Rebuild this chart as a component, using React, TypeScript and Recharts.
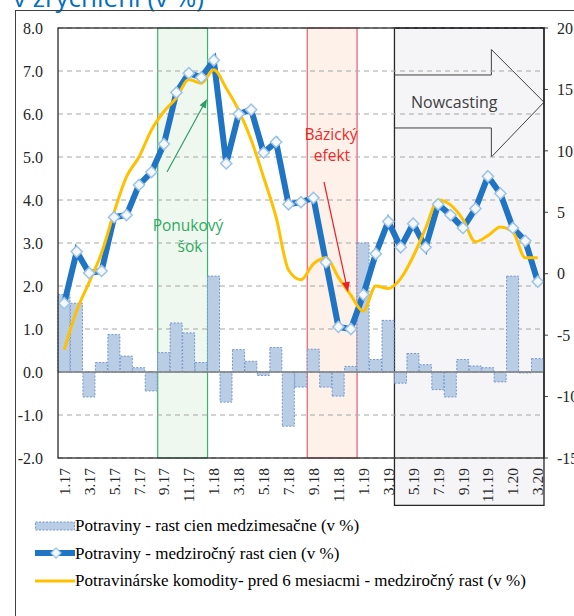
import React from 'react';
import {
  ComposedChart, Bar, Line, XAxis, YAxis, CartesianGrid,
  ReferenceArea, ReferenceLine, Legend,
} from 'recharts';

const months = [
  '1.17','2.17','3.17','4.17','5.17','6.17','7.17','8.17','9.17','10.17','11.17','12.17',
  '1.18','2.18','3.18','4.18','5.18','6.18','7.18','8.18','9.18','10.18','11.18','12.18',
  '1.19','2.19','3.19','4.19','5.19','6.19','7.19','8.19','9.19','10.19','11.19','12.19',
  '1.20','2.20','3.20',
];

// Potraviny - rast cien medzimesačne (v %)
const foodMoM = [
  1.8, 1.6, -0.58, 0.22, 0.87, 0.37, 0.1, -0.44, 0.45, 1.14, 0.91, 0.22,
  2.23, -0.7, 0.52, 0.25, -0.08, 0.57, -1.26, -0.35, 0.53, -0.35, -0.56, 0.13,
  3.0, 0.29, 1.2, -0.26, 0.43, 0.17, -0.41, -0.58, 0.29, 0.14, 0.1, -0.23,
  2.23, -0.02, 0.31,
];

// Potraviny - medziročný rast cien (v %)
const foodYoY = [
  1.6, 2.8, 2.3, 2.35, 3.6, 3.65, 4.35, 4.65, 5.3, 6.5, 6.95, 6.85,
  7.25, 4.85, 6.0, 6.1, 5.1, 5.35, 3.9, 3.95, 4.05, 2.55, 1.05, 1.0,
  1.8, 2.75, 3.5, 2.9, 3.45, 2.9, 3.9, 3.65, 3.35, 3.8, 4.55, 4.15,
  3.35, 3.05, 2.1,
];

// Potravinárske komodity - pred 6 mesiacmi - medziročný rast (v %)
const commodities = [
  -6.2, -3.0, -0.7, 1.7, 5.0, 7.9, 9.5, 11.7, 13.2, 14.3, 15.8, 15.5,
  16.6, 15.1, 13.3, 10.9, 7.85, 4.6, 0.3, -0.5, 0.8, 1.3, -0.3, -1.75,
  -3.05, -1.0, -1.2, -0.4, 1.4, 3.7, 6.0, 5.6, 4.4, 2.6, 3.1, 3.8,
  3.4, 1.3, 1.3,
];

const leftTicks = [-2, -1, 0, 1, 2, 3, 4, 5, 6, 7, 8];
const rightTicks = [-15, -10, -5, 0, 5, 10, 15, 20];

const legendLabels = [
  'Potraviny - rast cien medzimesačne (v %)',
  'Potraviny - medziročný rast cien (v %)',
  'Potravinárske komodity- pred 6 mesiacmi - medziročný rast (v %)',
];

const data = months.map((m, i) => ({
  m,
  mom: foodMoM[i],
  yoy: foodYoY[i],
  kom: commodities[i],
}));

const SERIF = "'Liberation Serif', 'Times New Roman', serif";
const SANS = "'Open Sans', 'Noto Sans', sans-serif";

const XTick = (props: any) => {
  const { x, y, payload } = props;
  return (
    <text
      x={x}
      y={y}
      transform={`rotate(-90, ${x}, ${y})`}
      textAnchor="end"
      dominantBaseline="central"
      fontFamily={SERIF}
      fontSize={15.5}
      fill="#262626"
    >
      {payload.value}
    </text>
  );
};

const Diamond = (props: any) => {
  const { cx, cy, index } = props;
  if (cx == null || cy == null) return null;
  const r = 5.6;
  return (
    <polygon
      key={`d-${index}`}
      points={`${cx},${cy - r} ${cx + r},${cy} ${cx},${cy + r} ${cx - r},${cy}`}
      fill="#f5f9fe"
      stroke="#9dc3e6"
      strokeWidth={1.5}
    />
  );
};

const NowcastArrow = (p: any) => {
  const { x, y, width: w, height: h } = p;
  if (x == null) return null;
  const hx = x + w * 0.648;
  const s1 = y + h * 0.237;
  const s2 = y + h * 0.73;
  const tipY = y + h * 0.49;
  return (
    <g>
      <polyline
        points={`${x},${s1} ${hx},${s1} ${hx},${y} ${x + w},${tipY} ${hx},${y + h} ${hx},${s2} ${x},${s2}`}
        fill="none"
        stroke="#404040"
        strokeWidth={1}
      />
      <text
        x={x + w * 0.4}
        y={tipY}
        textAnchor="middle"
        dominantBaseline="central"
        fontFamily={SANS}
        fontSize={16}
        fill="#404040"
      >
        Nowcasting
      </text>
    </g>
  );
};

const renderLegend = () => (
  <div style={{ fontFamily: SERIF, fontSize: 17, color: '#000', lineHeight: '27.5px' }}>
    {legendLabels.map((label, i) => (
      <div key={label} style={{ display: 'flex', alignItems: 'center', height: 27.5, whiteSpace: 'nowrap' }}>
        <svg width={40} height={14} style={{ display: 'block' }}>
          {i === 0 && (
            <rect x={0.5} y={3} width={39} height={8} fill="#b9cde5" stroke="#7496cc" strokeDasharray="2 1.5" />
          )}
          {i === 1 && (
            <g>
              <line x1={0} y1={7} x2={40} y2={7} stroke="#1f74c4" strokeWidth={6} />
              <polygon points="21,2 26,7 21,12 16,7" fill="#f5f9fe" stroke="#9dc3e6" strokeWidth={1.3} />
            </g>
          )}
          {i === 2 && <line x1={0} y1={7} x2={40} y2={7} stroke="#ffc000" strokeWidth={3} />}
        </svg>
        <span>{label}</span>
      </div>
    ))}
  </div>
);

const arrowHead = (x1: number, y1: number, x2: number, y2: number, len: number, wid: number) => {
  const dx = x2 - x1;
  const dy = y2 - y1;
  const d = Math.sqrt(dx * dx + dy * dy);
  const ux = dx / d;
  const uy = dy / d;
  const bx = x2 - ux * len;
  const by = y2 - uy * len;
  return `${x2},${y2} ${bx - uy * wid},${by + ux * wid} ${bx + uy * wid},${by - ux * wid}`;
};

export default function App() {
  return (
    <div style={{ position: 'absolute', left: 0, top: 0, width: 574, height: 616, overflow: 'hidden', background: '#fff' }}>
      <ComposedChart
        width={574}
        height={616}
        data={data}
        margin={{ top: 28, right: 0, bottom: 98, left: 18 }}
        barCategoryGap={0}
        barGap={0}
      >
        <ReferenceArea
          x1="9.17" x2="12.17" y1={-2} y2={8} yAxisId="left"
          fill="#eef8ef" fillOpacity={1} stroke="#3cb371" strokeWidth={1.2}
          zIndex={-300}
        />
        <ReferenceArea
          x1="9.18" x2="12.18" y1={-2} y2={8} yAxisId="left"
          fill="#fdf1ea" fillOpacity={1} stroke="#e0606c" strokeWidth={1.2}
          zIndex={-300}
        />
        <ReferenceArea
          x1="4.19" x2="3.20" y1={-3.1} y2={8} yAxisId="left"
          fill="#f5f5f7" fillOpacity={1} stroke="#262626" strokeWidth={1.3}
          ifOverflow="visible"
          zIndex={-300}
        />
        <ReferenceArea
          x1="4.19" x2="3.20" y1={5.0} y2={7.5} yAxisId="left"
          shape={NowcastArrow}
          ifOverflow="visible"
          zIndex={-250}
        />
        <CartesianGrid
          yAxisId="left"
          vertical={false}
          stroke="#a6a6a6"
          strokeDasharray="5 4"
        />
        <XAxis
          dataKey="m"
          interval={1}
          axisLine={false}
          tickLine={false}
          tickSize={0}
          tickMargin={10}
          height={60}
          tick={<XTick />}
        />
        <YAxis
          yAxisId="left"
          orientation="left"
          domain={[-2, 8]}
          ticks={leftTicks}
          width={40}
          axisLine={false}
          tickLine={false}
          tickSize={0}
          tickMargin={15}
          tickFormatter={(v: number) => v.toFixed(1)}
          tick={{ fontFamily: SERIF, fontSize: 16, fill: '#262626' }}
        />
        <YAxis
          yAxisId="right"
          orientation="right"
          domain={[-15, 20]}
          ticks={rightTicks}
          width={30}
          axisLine={false}
          tickLine={{ stroke: '#404040' }}
          tickSize={4}
          tickMargin={9}
          tick={{ fontFamily: SERIF, fontSize: 16, fill: '#262626', textAnchor: 'start' }}
        />
        <Bar
          yAxisId="left"
          dataKey="mom"
          fill="#b9cde5"
          stroke="#7496cc"
          strokeDasharray="2 1.5"
          strokeWidth={1}
          isAnimationActive={false}
        />
        <ReferenceLine yAxisId="left" y={0} stroke="#7f7f7f" strokeWidth={1.3} />
        <Line
          yAxisId="left"
          type="linear"
          dataKey="yoy"
          stroke="#1f74c4"
          strokeWidth={6}
          dot={<Diamond />}
          activeDot={false}
          isAnimationActive={false}
        />
        <Line
          yAxisId="right"
          type="monotone"
          dataKey="kom"
          stroke="#ffc000"
          strokeWidth={3}
          dot={false}
          activeDot={false}
          isAnimationActive={false}
        />
        <Legend
          layout="horizontal"
          verticalAlign="middle"
          align="center"
          wrapperStyle={{ top: 512, left: 35, width: 539, height: 85 }}
          content={renderLegend}
        />
      </ComposedChart>
      <svg
        width={574}
        height={616}
        style={{ position: 'absolute', left: 0, top: 0, pointerEvents: 'none' }}
      >
        <text x={13} y={7} fontFamily={SANS} fontSize={26} fill="#0070c0">v zrýchlení (v %)</text>
        <rect x={15.5} y={10.5} width={700} height={700} fill="none" stroke="#404040" strokeWidth={1} />
        <rect x={58} y={28} width={486} height={430} fill="none" stroke="#1a1a1a" strokeWidth={1.2} />
        <text x={188} y={231} textAnchor="middle" fontFamily={SANS} fontSize={15.5} fill="#2eaa62">Ponukový</text>
        <text x={190} y={252} textAnchor="middle" fontFamily={SANS} fontSize={15.5} fill="#2eaa62">šok</text>
        <line x1={167} y1={172} x2={203} y2={106} stroke="#2e9e6a" strokeWidth={1.2} />
        <polygon points={arrowHead(167, 172, 207, 99, 9, 3.5)} fill="#2e9e6a" />
        <text x={331} y={140} textAnchor="middle" fontFamily={SANS} fontSize={15.5} fill="#ee2a2a">Bázický</text>
        <text x={332} y={161} textAnchor="middle" fontFamily={SANS} fontSize={15.5} fill="#ee2a2a">efekt</text>
        <line x1={324} y1={182} x2={346} y2={283} stroke="#e8202a" strokeWidth={1.2} />
        <polygon points={arrowHead(324, 182, 348, 292, 10, 4)} fill="#e8202a" />
      </svg>
    </div>
  );
}
